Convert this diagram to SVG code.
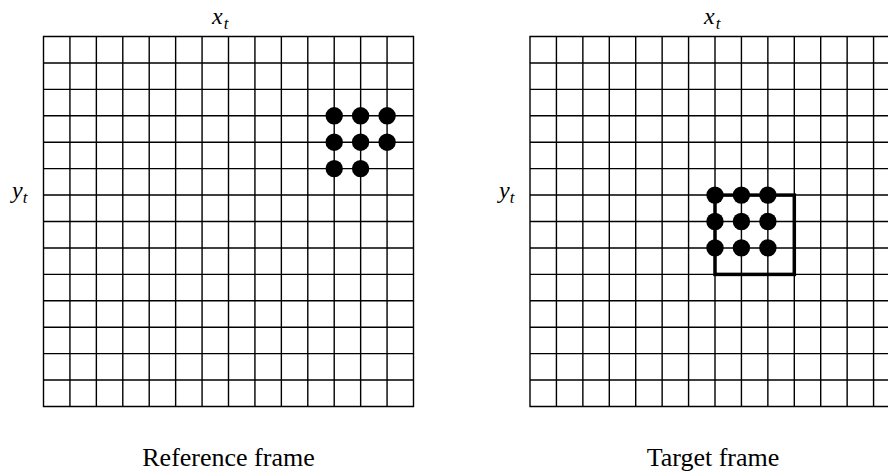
<svg xmlns="http://www.w3.org/2000/svg" width="888" height="473" viewBox="0 0 888 473">
<defs>
<style>
.grid{fill:none;stroke:#000;stroke-width:1.4}
.dot{fill:#000}
.lbl{font-family:"Liberation Serif",serif;font-style:italic;font-size:24px;fill:#000}
.sub{font-size:17px}
.cap{font-family:"Liberation Serif",serif;font-size:26px;fill:#000;text-anchor:middle}
</style>
<path id="g" class="grid" d="M0 0H370V370H0Z M26.43 0V370M52.86 0V370M79.29 0V370M105.71 0V370M132.14 0V370M158.57 0V370M185 0V370M211.43 0V370M237.86 0V370M264.29 0V370M290.71 0V370M317.14 0V370M343.57 0V370 M0 26.43H370M0 52.86H370M0 79.29H370M0 105.71H370M0 132.14H370M0 158.57H370M0 185H370M0 211.43H370M0 237.86H370M0 264.29H370M0 290.71H370M0 317.14H370M0 343.57H370"/>
</defs>
<rect width="888" height="473" fill="#fff"/>
<g id="reference-frame">
<use href="#g" x="43.5" y="36.5"/>
<g id="ref-dots">
<circle class="dot" cx="334.2" cy="115.8" r="8.7"/>
<circle class="dot" cx="360.6" cy="115.8" r="8.7"/>
<circle class="dot" cx="387.1" cy="115.8" r="8.7"/>
<circle class="dot" cx="334.2" cy="142.2" r="8.7"/>
<circle class="dot" cx="360.6" cy="142.2" r="8.7"/>
<circle class="dot" cx="387.1" cy="142.2" r="8.7"/>
<circle class="dot" cx="334.2" cy="168.6" r="8.7"/>
<circle class="dot" cx="360.6" cy="168.6" r="8.7"/>
</g>
<text class="lbl" x="212" y="24">x<tspan class="sub" dx="1" dy="5">t</tspan></text>
<text class="lbl" x="12" y="198">y<tspan class="sub" dy="5">t</tspan></text>
<text class="cap" x="228.5" y="466">Reference frame</text>
</g>
<g id="target-frame">
<use href="#g" x="530" y="36.5"/>
<rect x="715" y="195.1" width="79.3" height="79.3" fill="none" stroke="#000" stroke-width="3.5"/>
<g id="tgt-dots">
<circle class="dot" cx="715" cy="195.1" r="8.7"/>
<circle class="dot" cx="741.4" cy="195.1" r="8.7"/>
<circle class="dot" cx="767.9" cy="195.1" r="8.7"/>
<circle class="dot" cx="715" cy="221.5" r="8.7"/>
<circle class="dot" cx="741.4" cy="221.5" r="8.7"/>
<circle class="dot" cx="767.9" cy="221.5" r="8.7"/>
<circle class="dot" cx="715" cy="247.9" r="8.7"/>
<circle class="dot" cx="741.4" cy="247.9" r="8.7"/>
<circle class="dot" cx="767.9" cy="247.9" r="8.7"/>
</g>
<text class="lbl" x="704" y="24">x<tspan class="sub" dx="1" dy="5">t</tspan></text>
<text class="lbl" x="499" y="198">y<tspan class="sub" dy="5">t</tspan></text>
<text class="cap" x="713" y="466">Target frame</text>
</g>
</svg>
